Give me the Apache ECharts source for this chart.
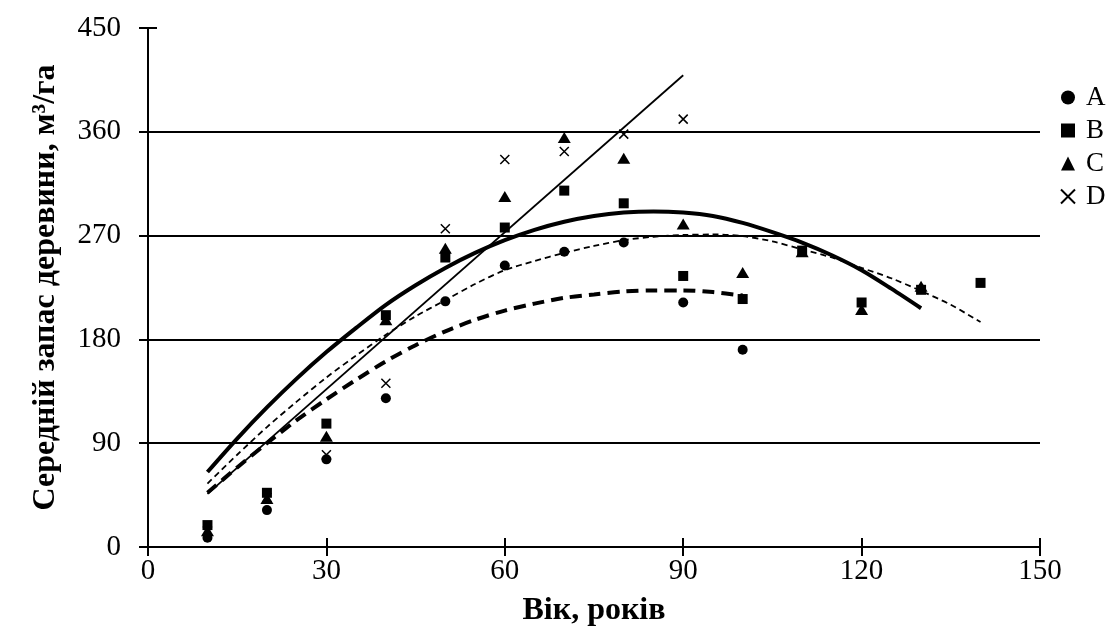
<!DOCTYPE html>
<html>
<head>
<meta charset="utf-8">
<script src="https://cdn.jsdelivr.net/npm/echarts@6/dist/echarts.min.js"></script>
<style>
html,body{margin:0;padding:0;background:#fff;}
#chart{width:1120px;height:628px;}
</style>
</head>
<body>
<div id="chart"></div>
<script>
// ---- data ----
const xTitle = 'Вік, років';
const yTitle = 'Середній запас деревини, м³/га';

const agesA = [10, 20, 30, 40, 50, 60, 70, 80, 90, 100];
const valsA = [8, 32, 76, 129, 213, 244, 256, 264, 212, 171];

const agesB = [10, 20, 30, 40, 50, 60, 70, 80, 90, 100, 110, 120, 130, 140];
const valsB = [19, 47, 107, 201, 251, 277, 309, 298, 235, 215, 257, 212, 223, 229];

const agesC = [10, 20, 30, 40, 50, 60, 70, 80, 90, 100, 110, 120, 130];
const valsC = [14, 42, 96, 197, 259, 304, 355, 337, 280, 238, 256, 206, 226];

const agesD = [10, 20, 30, 40, 50, 60, 70, 80, 90];
const valsD = [14, 43, 80, 142, 276, 336, 343, 358, 371];

// trend lines (every 5 years)
const trendAgesA = [10, 15, 20, 25, 30, 35, 40, 45, 50, 55, 60, 65, 70, 75, 80, 85, 90, 95, 100];
const trendA = [47, 69, 90, 110, 128, 145, 161, 175, 187, 197, 205, 211, 216, 219, 221.5, 222.5, 222.5, 221, 218];

const trendAgesB = [10, 15, 20, 25, 30, 35, 40, 45, 50, 55, 60, 65, 70, 75, 80, 85, 90, 95, 100, 105, 110, 115, 120, 125, 130, 135, 140];
const trendB = [55, 80, 104, 126, 147, 166, 184, 200, 214, 228, 240, 248, 255, 261, 266, 269, 270.5, 271, 269.5, 265, 258, 251, 242, 233, 222, 210, 195];

const trendAgesC = [10, 15, 20, 25, 30, 35, 40, 45, 50, 55, 60, 65, 70, 75, 80, 85, 90, 95, 100, 105, 110, 115, 120, 125, 130];
const trendC = [65, 94, 121, 146, 169, 190, 210, 227, 242, 255, 266, 275, 282, 287, 290, 291, 290, 287, 281, 273, 264, 253, 240, 224, 207];

const trendAgesD = [10, 90];
const trendD = [46, 409];

const seriesNames = ['A', 'B', 'C', 'D'];

// ---- chart ----
const FONT = "'Liberation Serif', 'Times New Roman', serif";
const pairs = (xs, ys) => xs.map((x, i) => [x, ys[i]]);
const crossPath = 'path://M0,0L10,10M10,0L0,10';

const chart = echarts.init(document.getElementById('chart'), null, {renderer: 'canvas'});

const axisCommon = {
  type: 'value',
  axisLine: {show: true, lineStyle: {color: '#000', width: 2}},
  axisTick: {show: true, length: 9, lineStyle: {color: '#000', width: 2}},
  splitLine: {show: false},
};

const trendCommon = {
  type: 'line', smooth: 0.3,
  showSymbol: false, z: 3, silent: true
};

const option = {
  backgroundColor: '#fff',
  animation: false,
  grid: {left: 148, right: 80, top: 28, bottom: 81, containLabel: false, outerBoundsMode: 'none'},
  xAxis: [
    Object.assign({}, axisCommon, {
      min: 0, max: 150, interval: 30,
      name: xTitle, nameLocation: 'middle', nameGap: 48,
      nameTextStyle: {fontFamily: FONT, fontSize: 32, fontWeight: 'bold', color: '#000'},
      axisLabel: {fontFamily: FONT, fontSize: 29, color: '#000', margin: 10},
    }),
    Object.assign({}, axisCommon, {
      min: 0, max: 150, interval: 30, position: 'bottom',
      axisLine: {show: false},
      axisTick: {show: true, inside: true, length: 9, lineStyle: {color: '#000', width: 2}},
      axisLabel: {show: false},
    })
  ],
  yAxis: [
    Object.assign({}, axisCommon, {
      min: 0, max: 450, interval: 90,
      name: yTitle, nameLocation: 'middle', nameGap: 86,
      nameTextStyle: {fontFamily: FONT, fontSize: 32, fontWeight: 'bold', color: '#000'},
      axisLabel: {fontFamily: FONT, fontSize: 29, color: '#000', margin: 27},
      splitLine: {show: true, showMinLine: false, showMaxLine: false, lineStyle: {color: '#000', width: 2}},
    }),
    Object.assign({}, axisCommon, {
      min: 0, max: 450, interval: 90, position: 'left',
      axisLine: {show: false},
      axisTick: {show: true, inside: true, length: 9, lineStyle: {color: '#000', width: 2}},
      axisLabel: {show: false},
    })
  ],
  legend: {
    orient: 'vertical',
    left: 1055, top: 79,
    itemWidth: 14, itemHeight: 14, itemGap: 6,
    data: seriesNames,
    textStyle: {fontFamily: FONT, fontSize: 27, color: '#000', padding: [0, 0, 0, 6]},
  },
  series: [
    Object.assign({}, trendCommon, {
      name: 'trendA', data: pairs(trendAgesA, trendA),
      lineStyle: {color: '#000', width: 4, type: [12, 7]}
    }),
    Object.assign({}, trendCommon, {
      name: 'trendB', data: pairs(trendAgesB, trendB),
      lineStyle: {color: '#000', width: 1.8, type: [6, 4]}
    }),
    Object.assign({}, trendCommon, {
      name: 'trendC', data: pairs(trendAgesC, trendC),
      lineStyle: {color: '#000', width: 4}
    }),
    {
      type: 'line', name: 'trendD', data: pairs(trendAgesD, trendD),
      showSymbol: false, z: 3, silent: true,
      lineStyle: {color: '#000', width: 1.8}
    },
    {
      type: 'scatter', name: 'A', data: pairs(agesA, valsA), symbol: 'circle', symbolSize: 10, z: 4,
      itemStyle: {color: '#000', opacity: 1}
    },
    {
      type: 'scatter', name: 'C', data: pairs(agesC, valsC), symbol: 'triangle', symbolSize: [13, 11], z: 4,
      itemStyle: {color: '#000', opacity: 1}
    },
    {
      type: 'scatter', name: 'B', data: pairs(agesB, valsB), symbol: 'rect', symbolSize: 10, z: 5,
      itemStyle: {color: '#000', opacity: 1}
    },
    {
      type: 'scatter', name: 'D', data: pairs(agesD, valsD), symbol: crossPath, symbolSize: 9, z: 4,
      itemStyle: {color: 'rgba(0,0,0,0)', borderColor: '#000', borderWidth: 1.5, opacity: 1}
    }
  ]
};
chart.setOption(option);
</script>
</body>
</html>
